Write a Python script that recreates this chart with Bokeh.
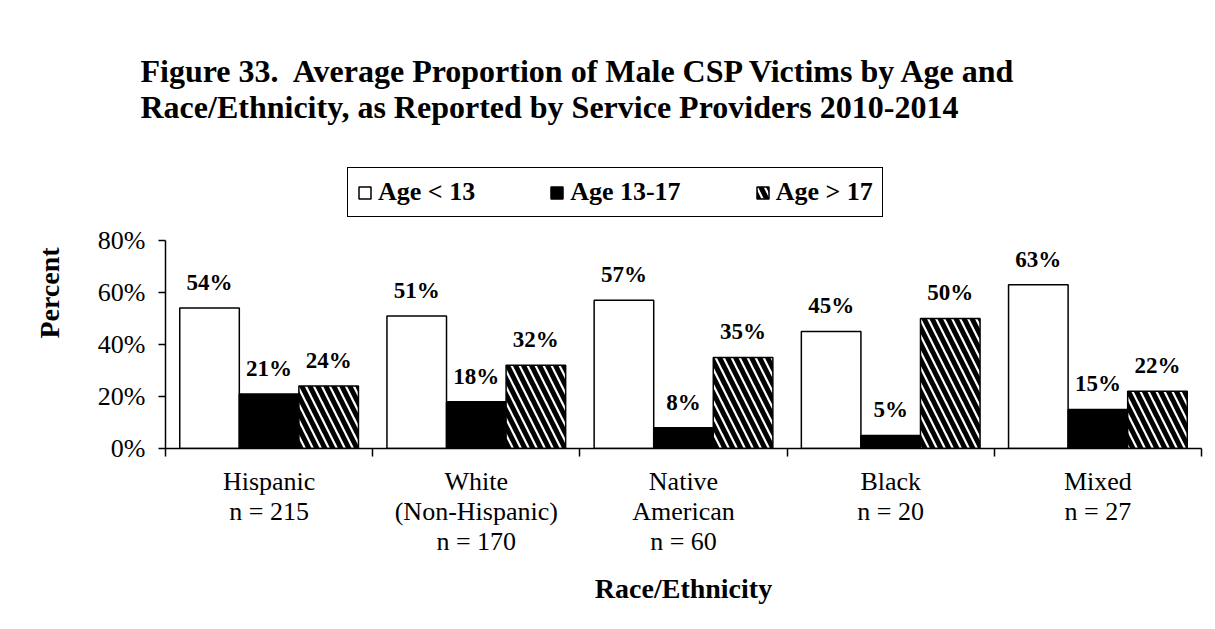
from bokeh.plotting import figure
from bokeh.models import (ColumnDataSource, FixedTicker, Legend, LegendItem,
                          LabelSet, Range1d, BoxAnnotation)
from bokeh.embed import file_html
from bokeh.resources import INLINE

# ---- data ----
categories = ["Hispanic\nn = 215", "White\n(Non-Hispanic)\nn = 170",
              "Native\nAmerican\nn = 60", "Black\nn = 20", "Mixed\nn = 27"]
series_names = ["Age < 13", "Age 13-17", "Age > 17"]
age_lt13 = [54, 51, 57, 45, 63]
age_13_17 = [21, 18, 8, 5, 15]
age_gt17 = [24, 32, 35, 50, 22]
y_ticks = [0, 20, 40, 60, 80]

title_text = ("Figure 33.\u00a0 Average Proportion of Male CSP Victims by Age and\n"
              "Race/Ethnicity, as Reported by Service Providers 2010-2014")

FONT = "Liberation Serif"

# frame: y from 0 upward; top extends to hold the legend
Y_TOP = 119.6
p = figure(width=1204, height=618, output_backend="svg", toolbar_location=None,
           x_range=Range1d(0, len(categories)), y_range=Range1d(0, Y_TOP),
           min_border_left=165, min_border_right=3, min_border_top=137,
           min_border_bottom=170)
p.outline_line_color = None
p.grid.visible = False
p.background_fill_color = "white"
p.border_fill_color = "white"

# thick frame line along the top and left edges of the chart area
for l, r, b, t in [(-165, -160, -170, 448), (-165, 1039, 443, 448)]:
    p.add_layout(BoxAnnotation(left=l, right=r, bottom=b, top=t,
                               left_units="screen", right_units="screen",
                               bottom_units="screen", top_units="screen",
                               fill_color="black", fill_alpha=1.0,
                               line_color=None, level="overlay"))

# title
p.title.text = title_text
p.title.text_font = FONT
p.title.text_font_size = "32px"
p.title.text_font_style = "bold"
p.title.text_color = "black"
p.title.align = "left"
p.title.offset = -25
p.title.standoff = 26

bar_w = 0.2875
offsets = [-bar_w, 0.0, bar_w]
series_vals = [age_lt13, age_13_17, age_gt17]
fills = ["white", "black", "white"]
hatches = [None, None, "\\"]

centers = [i + 0.5 for i in range(len(categories))]
renderers = []
for k, (vals, fill, hatch) in enumerate(zip(series_vals, fills, hatches)):
    src = ColumnDataSource(dict(
        x=[c + offsets[k] for c in centers], top=vals,
        label=[f"{v}%" for v in vals]))
    kw = {}
    if hatch:
        kw = dict(hatch_pattern=hatch, hatch_color="black", hatch_weight=5,
                  hatch_scale=16)
    r = p.vbar(x="x", top="top", width=bar_w, source=src, fill_color=fill,
               line_color="black", line_width=1.5, **kw)
    renderers.append(r)
    p.add_layout(LabelSet(x="x", y="top", text="label", source=src,
                          text_align="center", text_baseline="alphabetic",
                          y_offset=18, text_font=FONT, text_font_size="23px",
                          text_font_style="bold", text_color="black"))

# x axis
xa = p.xaxis[0]
xa.ticker = FixedTicker(ticks=centers, minor_ticks=list(range(len(categories) + 1)))
xa.major_label_overrides = {c: lab for c, lab in zip(centers, categories)}
xa.major_tick_line_color = None
xa.major_tick_out = 0
xa.major_tick_in = 0
xa.minor_tick_out = 8
xa.minor_tick_in = 0
xa.minor_tick_line_color = "black"
xa.minor_tick_line_width = 1.5
xa.axis_line_width = 1.5
xa.axis_line_color = "black"
xa.major_label_text_font = FONT
xa.major_label_text_font_size = "26px"
xa.major_label_text_color = "black"
xa.major_label_text_line_height = 1.04
xa.major_label_standoff = 10
xa.axis_label = "Race/Ethnicity"
xa.axis_label_text_font = FONT
xa.axis_label_text_font_size = "28px"
xa.axis_label_text_font_style = "bold"
xa.axis_label_text_color = "black"
xa.axis_label_standoff = 14

# y axis
ya = p.yaxis[0]
ya.ticker = FixedTicker(ticks=y_ticks)
ya.bounds = (0, 80)
ya.major_label_overrides = {v: f"{v}%" for v in y_ticks}
ya.major_tick_out = 7
ya.major_tick_in = 0
ya.minor_tick_line_color = None
ya.major_tick_line_width = 1.5
ya.axis_line_width = 1.5
ya.major_label_text_font = FONT
ya.major_label_text_font_size = "26px"
ya.major_label_text_color = "black"
ya.major_label_standoff = 13
ya.axis_label = "Percent"
ya.axis_label_text_font = FONT
ya.axis_label_text_font_size = "28px"
ya.axis_label_text_font_style = "bold"
ya.axis_label_text_color = "black"
ya.axis_label_standoff = 30

legend = Legend(items=[LegendItem(label=n, renderers=[r])
                       for n, r in zip(series_names, renderers)],
                orientation="horizontal", location=(182, 231),
                label_text_font=FONT, label_text_font_size="26px",
                label_text_font_style="bold", label_text_color="black",
                glyph_width=15, glyph_height=15,
                label_standoff=6, spacing=74, padding=9, margin=0,
                border_line_color="black", border_line_width=1.5,
                border_line_alpha=1.0, background_fill_alpha=1.0)
p.add_layout(legend)

open("out.html", "w").write(file_html(p, INLINE))
